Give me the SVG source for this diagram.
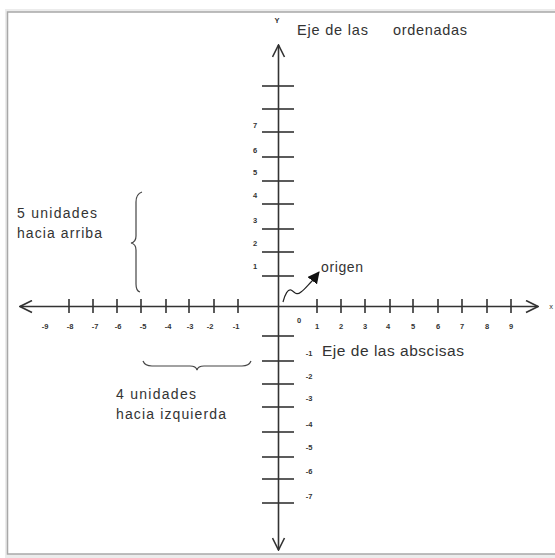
<svg xmlns="http://www.w3.org/2000/svg" width="555" height="558" viewBox="0 0 555 558">
<style>
.ax{stroke:#333;stroke-width:1.6;fill:none}
.tk{stroke:#333;stroke-width:1.6}
.br{stroke:#444;stroke-width:1.2;fill:none}
.num{font-family:"Liberation Sans",Arial,sans-serif;font-size:7.5px;font-weight:bold;fill:#333;text-anchor:middle}
.lbl{font-family:"Liberation Sans",Arial,sans-serif;font-size:14px;fill:#333}
</style>
<defs>
<marker id="open" viewBox="0 0 14 14" refX="13" refY="7" markerWidth="14" markerHeight="14" markerUnits="userSpaceOnUse" orient="auto-start-reverse">
<path d="M1,1 L13,7 L1,13" fill="none" stroke="#333" stroke-width="1.6"/>
</marker>
<marker id="solid" viewBox="0 0 12 12" refX="11" refY="6" markerWidth="12" markerHeight="12" markerUnits="userSpaceOnUse" orient="auto">
<path d="M0,0 L12,6 L0,12 Z" fill="#111"/>
</marker>
</defs>
<rect width="555" height="558" fill="#fff"/>
<g id="frame">
<rect x="5" y="9" width="560" height="549" fill="#ececec"/>
<rect x="7.5" y="12" width="560" height="542" fill="#fff" stroke="#a8a8a8" stroke-width="1.5"/>
</g>
<g id="connectors">
<line id="y-axis" class="ax" x1="278.5" y1="550" x2="278.5" y2="45" marker-start="url(#open)" marker-end="url(#open)"/>
<line id="x-axis" class="ax" x1="20" y1="306.5" x2="538" y2="306.5" marker-start="url(#open)" marker-end="url(#open)"/>
<path id="origin-arrow" d="M283,302 C285,294 288,289 291,290 C295,292 296,296 301,292 C305,289 308,285 312,281 L319,272" fill="none" stroke="#222" stroke-width="1.2" marker-end="url(#solid)"/>
</g>
<g id="y-ticks" class="tk">
<line x1="262" y1="86" x2="294" y2="86"/>
<line x1="262" y1="109" x2="294" y2="109"/>
<line x1="262" y1="132" x2="294" y2="132"/>
<line x1="262" y1="157" x2="294" y2="157"/>
<line x1="262" y1="181" x2="294" y2="181"/>
<line x1="262" y1="204" x2="294" y2="204"/>
<line x1="262" y1="229" x2="294" y2="229"/>
<line x1="262" y1="252" x2="294" y2="252"/>
<line x1="262" y1="276" x2="294" y2="276"/>
<line x1="262" y1="336" x2="294" y2="336"/>
<line x1="262" y1="361" x2="294" y2="361"/>
<line x1="262" y1="384" x2="294" y2="384"/>
<line x1="262" y1="407" x2="294" y2="407"/>
<line x1="262" y1="432" x2="294" y2="432"/>
<line x1="262" y1="457" x2="294" y2="457"/>
<line x1="262" y1="479" x2="294" y2="479"/>
<line x1="262" y1="503" x2="294" y2="503"/>
</g>
<g id="x-ticks" class="tk">
<line x1="69" y1="299" x2="69" y2="313"/>
<line x1="93" y1="299" x2="93" y2="313"/>
<line x1="117" y1="299" x2="117" y2="313"/>
<line x1="141" y1="299" x2="141" y2="313"/>
<line x1="166" y1="299" x2="166" y2="313"/>
<line x1="189" y1="299" x2="189" y2="313"/>
<line x1="214" y1="299" x2="214" y2="313"/>
<line x1="238" y1="299" x2="238" y2="313"/>
<line x1="317" y1="299" x2="317" y2="313"/>
<line x1="341" y1="299" x2="341" y2="313"/>
<line x1="365" y1="299" x2="365" y2="313"/>
<line x1="390" y1="299" x2="390" y2="313"/>
<line x1="413" y1="299" x2="413" y2="313"/>
<line x1="438" y1="299" x2="438" y2="313"/>
<line x1="462" y1="299" x2="462" y2="313"/>
<line x1="487" y1="299" x2="487" y2="313"/>
<line x1="511" y1="299" x2="511" y2="313"/>
</g>
<g id="y-numbers" class="num">
<text x="255" y="128">7</text>
<text x="255" y="153">6</text>
<text x="255" y="175">5</text>
<text x="255" y="198">4</text>
<text x="255" y="223">3</text>
<text x="255" y="246">2</text>
<text x="255" y="269">1</text>
<text x="309" y="356">-1</text>
<text x="309" y="379">-2</text>
<text x="309" y="401">-3</text>
<text x="309" y="427">-4</text>
<text x="309" y="450">-5</text>
<text x="309" y="474">-6</text>
<text x="309" y="499">-7</text>
</g>
<g id="x-numbers" class="num">
<text x="45" y="329">-9</text>
<text x="70" y="329">-8</text>
<text x="95" y="329">-7</text>
<text x="118" y="329">-6</text>
<text x="143" y="329">-5</text>
<text x="168" y="329">-4</text>
<text x="190" y="329">-3</text>
<text x="210" y="329">-2</text>
<text x="236" y="329">-1</text>
<text x="299" y="323">0</text>
<text x="317" y="329">1</text>
<text x="341" y="329">2</text>
<text x="365" y="329">3</text>
<text x="388" y="329">4</text>
<text x="413" y="329">5</text>
<text x="438" y="329">6</text>
<text x="462" y="329">7</text>
<text x="487" y="329">8</text>
<text x="511" y="329">9</text>
</g>
<g id="axis-names">
<text class="num" x="277" y="23" font-size="7">Y</text>
<text class="num" x="551" y="309" font-size="9" style="font-weight:normal">x</text>
<text class="lbl" y="35" style="font-size:14.5px"><tspan x="297" textLength="71" lengthAdjust="spacing">Eje de las</tspan><tspan x="393" textLength="74" lengthAdjust="spacing">ordenadas</tspan></text>
<text class="lbl" x="322" y="356" style="font-size:15.5px" textLength="142" lengthAdjust="spacing">Eje de las abscisas</text>
</g>
<g id="origin-label">
<text class="lbl" x="321" y="272" textLength="42" lengthAdjust="spacing">origen</text>
</g>
<g id="up-annotation">
<path class="br" d="M142,192 Q136,194 136,202 L136,236 Q136,242 131,243 Q136,244 136,250 L136,284 Q136,291 140,292"/>
<text class="lbl" x="17" y="218" textLength="80" lengthAdjust="spacing">5 unidades</text>
<text class="lbl" x="17" y="238" textLength="85" lengthAdjust="spacing">hacia arriba</text>
</g>
<g id="left-annotation">
<path class="br" d="M143,361 Q145,366 152,366 L190,366 Q196,366 197,370 Q198,366 204,366 L242,366 Q249,366 251,361"/>
<text class="lbl" x="116" y="399" textLength="80" lengthAdjust="spacing">4 unidades</text>
<text class="lbl" x="116" y="419" textLength="110" lengthAdjust="spacing">hacia izquierda</text>
</g>
</svg>
